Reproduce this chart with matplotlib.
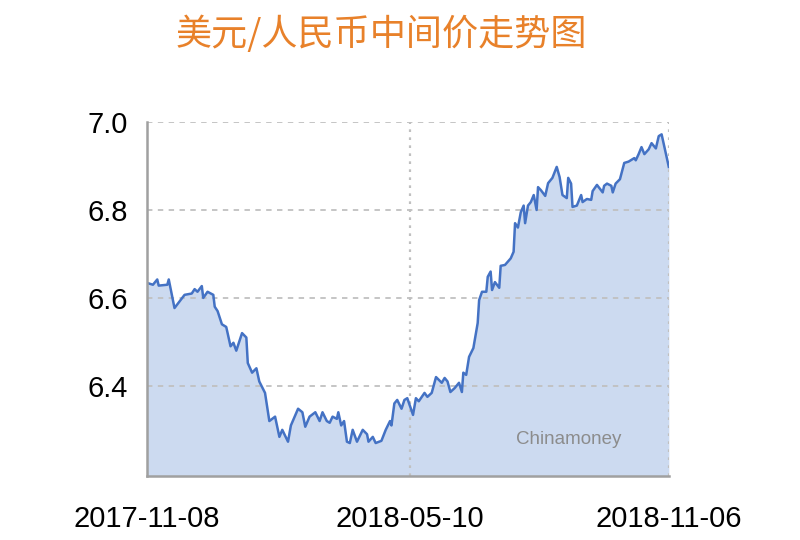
import matplotlib
matplotlib.use("Agg")
import matplotlib.pyplot as plt
import matplotlib.dates as mdates
import pandas as pd

# USD/CNY central parity
dates = [
    "2017-11-08", "2017-11-12", "2017-11-15", "2017-11-16", "2017-11-22", "2017-11-23",
    "2017-11-27", "2017-12-04", "2017-12-09", "2017-12-11", "2017-12-13", "2017-12-16",
    "2017-12-17", "2017-12-20", "2017-12-24", "2017-12-25", "2017-12-27", "2017-12-30",
    "2018-01-02", "2018-01-05", "2018-01-07", "2018-01-09", "2018-01-13", "2018-01-16",
    "2018-01-17", "2018-01-20", "2018-01-23", "2018-01-25", "2018-01-29", "2018-02-01",
    "2018-02-05", "2018-02-08", "2018-02-10", "2018-02-14", "2018-02-16", "2018-02-21",
    "2018-02-24", "2018-02-26", "2018-03-01", "2018-03-03", "2018-03-05", "2018-03-08",
    "2018-03-10", "2018-03-13", "2018-03-15", "2018-03-17", "2018-03-20", "2018-03-21",
    "2018-03-23", "2018-03-25", "2018-03-27", "2018-03-29", "2018-03-31", "2018-04-03",
    "2018-04-07", "2018-04-10", "2018-04-11", "2018-04-14", "2018-04-16", "2018-04-20",
    "2018-04-23", "2018-04-26", "2018-04-27", "2018-04-29", "2018-05-01", "2018-05-04",
    "2018-05-06", "2018-05-08", "2018-05-12", "2018-05-14", "2018-05-16", "2018-05-20",
    "2018-05-22", "2018-05-25", "2018-05-28", "2018-06-01", "2018-06-03", "2018-06-05",
    "2018-06-07", "2018-06-10", "2018-06-13", "2018-06-15", "2018-06-16", "2018-06-18",
    "2018-06-20", "2018-06-23", "2018-06-26", "2018-06-27", "2018-06-29", "2018-07-02",
    "2018-07-03", "2018-07-05", "2018-07-06", "2018-07-08", "2018-07-11", "2018-07-12",
    "2018-07-15", "2018-07-19", "2018-07-21", "2018-07-22", "2018-07-24", "2018-07-26",
    "2018-07-28", "2018-07-29", "2018-07-31", "2018-08-02", "2018-08-04", "2018-08-06",
    "2018-08-07", "2018-08-09", "2018-08-12", "2018-08-14", "2018-08-17", "2018-08-20",
    "2018-08-22", "2018-08-24", "2018-08-27", "2018-08-28", "2018-08-30", "2018-08-31",
    "2018-09-03", "2018-09-06", "2018-09-07", "2018-09-10", "2018-09-13", "2018-09-14",
    "2018-09-17", "2018-09-21", "2018-09-22", "2018-09-24", "2018-09-27", "2018-09-28",
    "2018-09-30", "2018-10-03", "2018-10-06", "2018-10-09", "2018-10-13", "2018-10-14",
    "2018-10-16", "2018-10-18", "2018-10-20", "2018-10-23", "2018-10-25", "2018-10-28",
    "2018-10-30", "2018-11-01", "2018-11-06",
]
rates = [
    6.634, 6.630, 6.642, 6.628, 6.630, 6.642,
    6.577, 6.607, 6.610, 6.620, 6.614, 6.627,
    6.600, 6.614, 6.607, 6.580, 6.570, 6.540,
    6.534, 6.490, 6.498, 6.480, 6.520, 6.510,
    6.452, 6.430, 6.440, 6.410, 6.384, 6.320,
    6.330, 6.284, 6.300, 6.273, 6.310, 6.348,
    6.340, 6.307, 6.330, 6.335, 6.340, 6.320,
    6.340, 6.320, 6.316, 6.330, 6.325, 6.340,
    6.310, 6.320, 6.273, 6.270, 6.300, 6.273,
    6.300, 6.290, 6.273, 6.284, 6.270, 6.275,
    6.300, 6.320, 6.310, 6.360, 6.368, 6.348,
    6.368, 6.372, 6.334, 6.372, 6.365, 6.384,
    6.375, 6.384, 6.420, 6.407, 6.418, 6.410,
    6.386, 6.395, 6.407, 6.386, 6.430, 6.425,
    6.466, 6.486, 6.543, 6.595, 6.614, 6.614,
    6.648, 6.660, 6.618, 6.636, 6.623, 6.673,
    6.675, 6.690, 6.705, 6.770, 6.760, 6.795,
    6.810, 6.770, 6.810, 6.818, 6.834, 6.800,
    6.852, 6.845, 6.832, 6.861, 6.873, 6.898,
    6.875, 6.834, 6.827, 6.873, 6.860, 6.807,
    6.810, 6.834, 6.818, 6.825, 6.823, 6.843,
    6.857, 6.840, 6.855, 6.860, 6.855, 6.840,
    6.860, 6.870, 6.907, 6.910, 6.918, 6.913,
    6.927, 6.943, 6.927, 6.938, 6.952, 6.940,
    6.968, 6.972, 6.898,
]
xtick_dates = ["2017-11-08", "2018-05-10", "2018-11-06"]
ytick_values = [6.4, 6.6, 6.8, 7.0]

x = pd.to_datetime(dates)
xt = pd.to_datetime(xtick_dates)

fig = plt.figure(figsize=(8, 5.4), dpi=100)
ax = fig.add_axes([0.184, 0.1185, 0.652, 0.6555])

ax.fill_between(x, rates, 6.0, color="#ccdaf0", linewidth=0, zorder=1)
ax.plot(x, rates, color="#4472c4", linewidth=1.8, zorder=3)

ax.set_xlim(xt[0], xt[-1])
ax.set_ylim(6.195, 7.0)

ax.set_yticks(ytick_values)
ax.set_yticklabels(["%.1f" % v for v in ytick_values])
ax.set_xticks(xt)
ax.set_xticklabels(xtick_dates)
ax.tick_params(axis="both", length=0, labelsize=21, colors="black")
ax.tick_params(axis="y", pad=14)
ax.tick_params(axis="x", pad=21)
for lab in ax.get_xticklabels() + ax.get_yticklabels():
    lab.set_family("Liberation Sans")

# grid: dashed horizontal, dotted vertical
for v in ytick_values:
    ax.axhline(v, color="#c0c0c0", linewidth=1.3, linestyle=(0, (3, 3)), zorder=2)
for d in xt[1:]:
    ax.axvline(d, color="#c0c0c0", linewidth=1.6, linestyle=(0, (1.2, 2.4)), zorder=2)

for side in ["top", "right"]:
    ax.spines[side].set_visible(False)
for side in ["left", "bottom"]:
    ax.spines[side].set_color("#a0a0a0")
    ax.spines[side].set_linewidth(1.8)
    ax.spines[side].set_zorder(4)

ax.text(0.808, 0.102, "Chinamoney", transform=ax.transAxes, ha="center", va="center",
        fontsize=13.5, color="#8c8c8c", family="Liberation Sans", zorder=5)

fig.text(0.477, 0.936, "美元/人民币中间价走势图", ha="center", va="center",
         fontsize=26, color="#e8812a", family=["Noto Sans CJK SC", "DejaVu Sans"])

fig.savefig("out.png", dpi=100, facecolor="white")
